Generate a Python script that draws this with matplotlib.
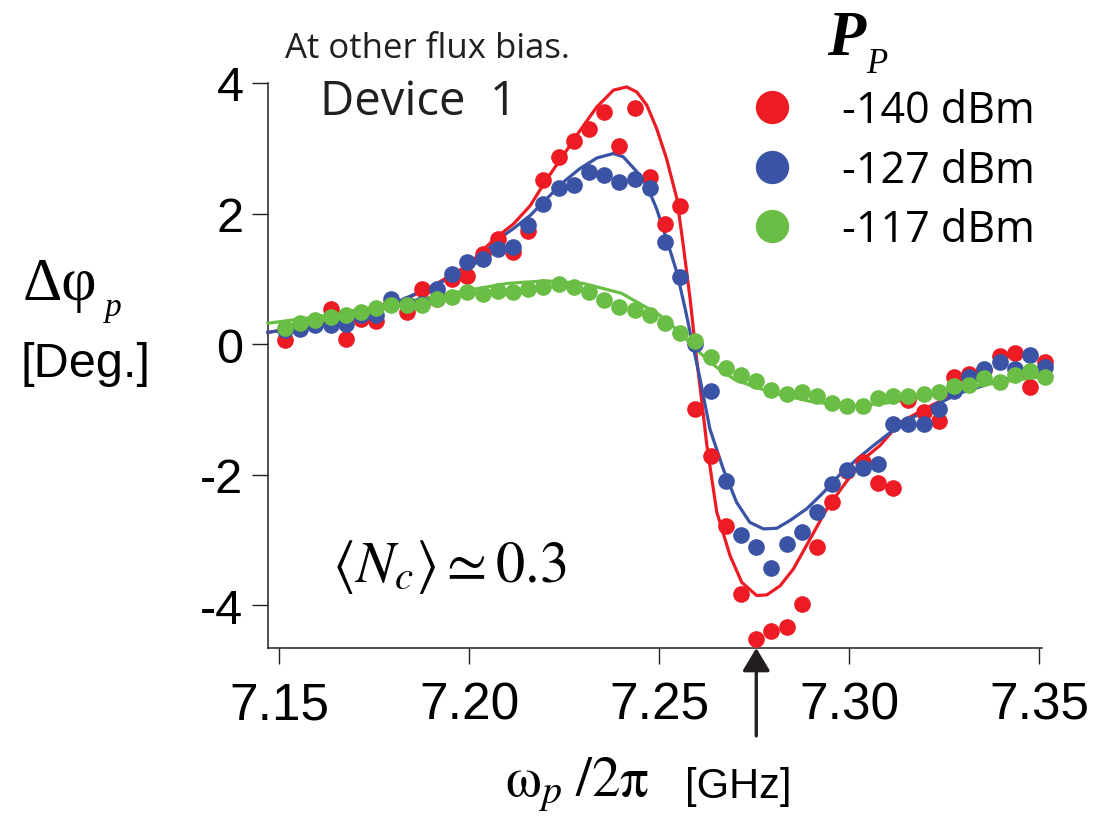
import matplotlib
matplotlib.use('Agg')
import matplotlib.pyplot as plt

plt.rcParams['mathtext.fontset'] = 'stix'
plt.rcParams['axes.unicode_minus'] = False

# probe frequency sweep [GHz], shared by the three pump powers
freq = [7.1515, 7.1555, 7.1595, 7.1635, 7.1675, 7.1715, 7.1755, 7.1795, 7.1835,
        7.1875, 7.1915, 7.1955, 7.1995, 7.2035, 7.2075, 7.2115, 7.2155, 7.2195,
        7.2235, 7.2275, 7.2315, 7.2355, 7.2395, 7.2435, 7.2475, 7.2515, 7.2555,
        7.2595, 7.2635, 7.2675, 7.2715, 7.2755, 7.2795, 7.2835, 7.2875, 7.2915,
        7.2955, 7.2995, 7.3035, 7.3075, 7.3115, 7.3155, 7.3195, 7.3235, 7.3275,
        7.3315, 7.3355, 7.3395, 7.3435, 7.3475, 7.3515]

# measured phase shift [deg]
phase_140 = [0.06, 0.30, 0.35, 0.54, 0.08, 0.38, 0.36, 0.62, 0.49, 0.85, 0.69,
             1.00, 1.05, 1.38, 1.61, 1.41, 1.74, 2.51, 2.87, 3.11, 3.29, 3.56,
             3.04, 3.62, 2.56, 1.84, 2.12, -1.00, -1.72, -2.78, -3.83, -4.51,
             -4.39, -4.34, -3.98, -3.11, -2.42, -1.95, -1.81, -2.12, -2.20, -0.86,
             -1.04, -1.17, -0.51, -0.46, -0.40, -0.18, -0.14, -0.66, -0.28]
phase_127 = [0.21, 0.23, 0.29, 0.29, 0.31, 0.44, 0.45, 0.69, 0.62, 0.62, 0.85,
             1.08, 1.26, 1.31, 1.46, 1.49, 1.82, 2.15, 2.39, 2.44, 2.64, 2.59,
             2.48, 2.53, 2.39, 1.56, 1.03, 0.00, -0.71, -2.09, -2.92, -3.11,
             -3.43, -3.06, -2.87, -2.57, -2.14, -1.92, -1.90, -1.83, -1.22, -1.22,
             -1.22, -0.99, -0.71, -0.51, -0.38, -0.28, -0.38, -0.17, -0.35]
phase_117 = [0.25, 0.32, 0.37, 0.42, 0.45, 0.50, 0.55, 0.60, 0.60, 0.60, 0.69,
             0.72, 0.80, 0.77, 0.82, 0.80, 0.85, 0.88, 0.92, 0.87, 0.80, 0.67,
             0.57, 0.52, 0.45, 0.33, 0.17, 0.05, -0.19, -0.36, -0.48, -0.56,
             -0.70, -0.76, -0.74, -0.79, -0.90, -0.94, -0.94, -0.83, -0.79, -0.79,
             -0.76, -0.74, -0.64, -0.63, -0.52, -0.58, -0.47, -0.41, -0.50]

# fitted response curves
fit_freq_140 = [7.147, 7.160, 7.170, 7.180, 7.190, 7.200, 7.2028, 7.2072, 7.2116,
                7.2160, 7.2204, 7.2247, 7.2291, 7.2335, 7.2379, 7.2414, 7.2441,
                7.2467, 7.2493, 7.2519, 7.2546, 7.2563, 7.2581, 7.2598, 7.2607,
                7.2625, 7.2651, 7.2686, 7.2717, 7.2756, 7.2783, 7.2818, 7.2853,
                7.2897, 7.2941, 7.2984, 7.3037, 7.3081, 7.3133, 7.3212, 7.3291,
                7.3396, 7.3505]
fit_140 = [0.18, 0.30, 0.42, 0.60, 0.88, 1.22, 1.40, 1.64, 1.84, 2.12, 2.53,
           2.89, 3.27, 3.63, 3.89, 3.94, 3.86, 3.66, 3.30, 2.84, 2.23, 1.51, 0.69,
           -0.23, -0.65, -1.55, -2.57, -3.24, -3.65, -3.85, -3.84, -3.70, -3.44,
           -2.98, -2.52, -2.17, -1.76, -1.55, -1.20, -0.95, -0.72, -0.55, -0.45]
fit_freq_127 = [7.147, 7.160, 7.170, 7.180, 7.190, 7.200, 7.2028, 7.2072, 7.2116,
                7.2160, 7.2204, 7.2247, 7.2291, 7.2335, 7.2379, 7.2405, 7.2441,
                7.2467, 7.2493, 7.2519, 7.2546, 7.2568, 7.2590, 7.2607, 7.2633,
                7.2668, 7.2703, 7.2738, 7.2774, 7.2809, 7.2844, 7.2888, 7.2932,
                7.2976, 7.3020, 7.3064, 7.3130, 7.3210, 7.3290, 7.3400, 7.3505]
fit_127 = [0.18, 0.30, 0.42, 0.62, 0.88, 1.15, 1.31, 1.59, 1.77, 1.97, 2.23,
           2.48, 2.69, 2.85, 2.92, 2.87, 2.64, 2.43, 2.07, 1.61, 1.10, 0.54, -0.07,
           -0.53, -1.30, -1.91, -2.42, -2.73, -2.83, -2.82, -2.70, -2.52, -2.27,
           -1.99, -1.76, -1.55, -1.25, -0.98, -0.75, -0.55, -0.42]
fit_freq_117 = [7.147, 7.160, 7.170, 7.180, 7.190, 7.200, 7.210, 7.220, 7.230,
                7.240, 7.250, 7.255, 7.260, 7.265, 7.270, 7.280, 7.290, 7.300,
                7.310, 7.320, 7.330, 7.340, 7.3505]
fit_117 = [0.32, 0.42, 0.52, 0.62, 0.72, 0.83, 0.93, 0.97, 0.93, 0.78, 0.45,
           0.20, -0.10, -0.35, -0.55, -0.75, -0.88, -0.95, -0.90, -0.80, -0.68,
           -0.58, -0.50]

labels = ['-140 dBm', '-127 dBm', '-117 dBm']
colors = ['#ed1c24', '#3a53a4', '#6abd45']

W, H = 1093, 828
fig = plt.figure(figsize=(W / 100, H / 100), dpi=100)
ax = fig.add_axes([267.7 / W, 1 - 649 / H, (1041.7 - 267.7) / W, (649 - 84) / H])

fits = [(fit_freq_140, fit_140), (fit_freq_127, fit_127), (fit_freq_117, fit_117)]
points = [phase_140, phase_127, phase_117]
handles = []
for k, col in enumerate(colors):
    ax.plot(fits[k][0], fits[k][1], color=col, lw=2.3, zorder=2 + k, clip_on=False)
for k, (col, lab) in enumerate(zip(colors, labels)):
    h, = ax.plot(freq, points[k], 'o', color=col, ms=12, mew=0, label=lab,
                 zorder=5 + k, clip_on=False)
    handles.append(h)

ax.set_xlim(7.14695, 7.3506)
ax.set_ylim(-4.654, 4.0)
ax.set_xticks([7.15, 7.20, 7.25, 7.30, 7.35])
ax.set_xticklabels(['7.15', '7.20', '7.25', '7.30', '7.35'])
ax.set_yticks([4, 2, 0, -2, -4])
ax.set_yticklabels(['4', '2', '0', '-2', '-4'])

for side in ['top', 'right']:
    ax.spines[side].set_visible(False)
for side in ['left', 'bottom']:
    ax.spines[side].set_color('#231f20')
    ax.spines[side].set_linewidth(1.1)
ax.tick_params(axis='x', direction='out', length=11.5, width=1.0, pad=12,
               color='#231f20', labelsize=37)
ax.tick_params(axis='y', direction='out', length=11.5, width=1.0, pad=6,
               color='#231f20', labelsize=35)
for t in ax.get_xticklabels() + ax.get_yticklabels():
    t.set_family('Liberation Sans')

# arrow marking the probe frequency of the deepest dip
f_dip = freq[phase_140.index(min(phase_140))]
ax.annotate('', xy=(f_dip, -4.654), xytext=(f_dip, -6.0),
            xycoords='data', annotation_clip=False,
            arrowprops=dict(arrowstyle='-|>,head_length=0.7,head_width=0.42',
                            mutation_scale=20, lw=2.4, color='#231f20',
                            shrinkA=0, shrinkB=0))

leg = ax.legend(handles=handles, loc='upper left', frameon=False,
                bbox_to_anchor=(752 / W, 1 - 90 / H), bbox_transform=fig.transFigure,
                prop={'family': 'Open Sans', 'size': 31}, markerscale=2.0,
                handlelength=0.95, handletextpad=1.15, labelspacing=0.34,
                borderpad=0, borderaxespad=0)

# legend title P_P
fig.text(827 / W, 1 - 55 / H, 'P', family='Liberation Serif', style='italic',
         weight='bold', size=45, va='baseline', ha='left')
fig.text(866 / W, 1 - 73 / H, 'P', family='Liberation Serif', style='italic',
         size=25, va='baseline', ha='left')

fig.text(285 / W, 1 - 58 / H, 'At other flux bias.', family='Open Sans',
         size=25, color='#231f20', va='baseline', ha='left')
fig.text(320 / W, 1 - 115 / H, 'Device  1', family='Open Sans',
         size=34, color='#231f20', va='baseline', ha='left')
fig.text(449 / W, 1 - 567 / H, r'$\left\langle N_c \right\rangle \simeq 0.3$',
         size=42, va='center', ha='center')

# axis labels
fig.text(23 / W, 1 - 300 / H, 'Δφ', family='Liberation Serif', size=44,
         va='baseline', ha='left')
fig.text(105 / W, 1 - 316 / H, 'p', family='Liberation Serif', style='italic',
         size=24, va='baseline', ha='left')
fig.text(85 / W, 1 - 377 / H, '[Deg.]', family='Liberation Sans', size=35,
         va='baseline', ha='center')
fig.text(505 / W, 1 - 797 / H, r'$\mathrm{\omega}_{p}\;/2\mathrm{\pi}$', size=41,
         va='baseline', ha='left')
fig.text(685 / W, 1 - 798 / H, '[GHz]', family='Liberation Sans', size=30,
         va='baseline', ha='left')

fig.savefig('out.png', dpi=100)
